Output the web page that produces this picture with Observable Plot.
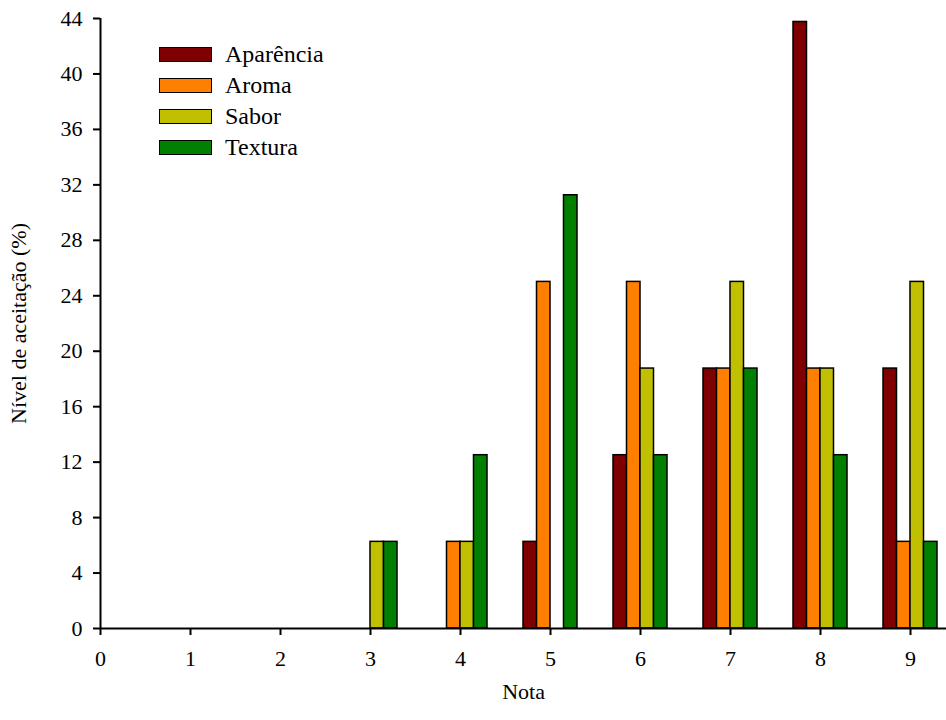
<!DOCTYPE html>
<html>
<head>
<meta charset="utf-8">
<script src="https://cdn.jsdelivr.net/npm/d3@7"></script>
<script src="https://cdn.jsdelivr.net/npm/@observablehq/plot@0.6"></script>
<style>
  body { margin: 0; background: #fff; }
  #wrap { position: relative; width: 946px; height: 720px; font-family: "Liberation Serif", Tinos, "Times New Roman", "DejaVu Serif", serif; }
  #legend { position: absolute; left: 159px; top: 39px; }
  .item { display: flex; align-items: center; height: 31px; font-size: 24px; color: #000; }
  .sw { width: 51px; height: 13px; border: 1.5px solid #000; margin-right: 13px; }
  svg text { font-family: "Liberation Serif", Tinos, "Times New Roman", "DejaVu Serif", serif; }
</style>
</head>
<body>
<div id="wrap"><div id="legend"></div></div>
<script>
const notas = [0, 1, 2, 3, 4, 5, 6, 7, 8, 9];
const series = ["Aparência", "Aroma", "Sabor", "Textura"];
const colors = ["#7f0000", "#ff7f00", "#c0c000", "#007f00"];
const aparencia = [0, 0, 0, 0, 0, 6.25, 12.5, 18.75, 43.75, 18.75];
const aroma     = [0, 0, 0, 0, 6.25, 25, 25, 18.75, 18.75, 6.25];
const sabor     = [0, 0, 0, 6.25, 6.25, 0, 18.75, 25, 18.75, 25];
const textura   = [0, 0, 0, 6.25, 12.5, 31.25, 12.5, 18.75, 12.5, 6.25];
const yTicks = [0, 4, 8, 12, 16, 20, 24, 28, 32, 36, 40, 44];

const values = [aparencia, aroma, sabor, textura];
const barW = 0.15;
const data = [];
series.forEach((s, i) => {
  notas.forEach((n, j) => {
    const v = values[i][j];
    if (v > 0) data.push({serie: s, nota: n, valor: v, x1: n + (i - 2) * barW, x2: n + (i - 1) * barW});
  });
});

const chart = Plot.plot({
  width: 946,
  height: 720,
  marginLeft: 100,
  marginRight: 0,
  marginTop: 18,
  marginBottom: 92,
  style: {fontFamily: "'Liberation Serif', Tinos, 'Times New Roman', 'DejaVu Serif', serif", fontSize: "22px", color: "#000", background: "#fff"},
  x: {domain: [0, 9.4]},
  y: {domain: [0, 44]},
  color: {domain: series, range: colors},
  marks: [
    Plot.rect(data, {x1: "x1", x2: "x2", y1: 0, y2: "valor", fill: "serie", stroke: "#000", strokeWidth: 1.5}),
    Plot.ruleY([0], {stroke: "#000", strokeWidth: 2}),
    Plot.ruleX([0], {stroke: "#000", strokeWidth: 2}),
    Plot.axisY({ticks: yTicks, tickSize: 7, tickPadding: 11, strokeWidth: 2, label: "Nível de aceitação (%)", labelAnchor: "center", labelArrow: "none", labelOffset: 90}),
    Plot.axisX({ticks: notas, tickSize: 7, tickPadding: 15, strokeWidth: 2, label: null}),
    Plot.axisX({ticks: [], tickSize: 0, label: "Nota", labelAnchor: "center", labelArrow: "none", labelOffset: 70, dx: -20})
  ]
});
document.getElementById("wrap").prepend(chart);

const legend = document.getElementById("legend");
series.forEach((s, i) => {
  const row = document.createElement("div");
  row.className = "item";
  const sw = document.createElement("div");
  sw.className = "sw";
  sw.style.background = colors[i];
  const t = document.createElement("span");
  t.textContent = s;
  row.append(sw, t);
  legend.append(row);
});
</script>
</body>
</html>
